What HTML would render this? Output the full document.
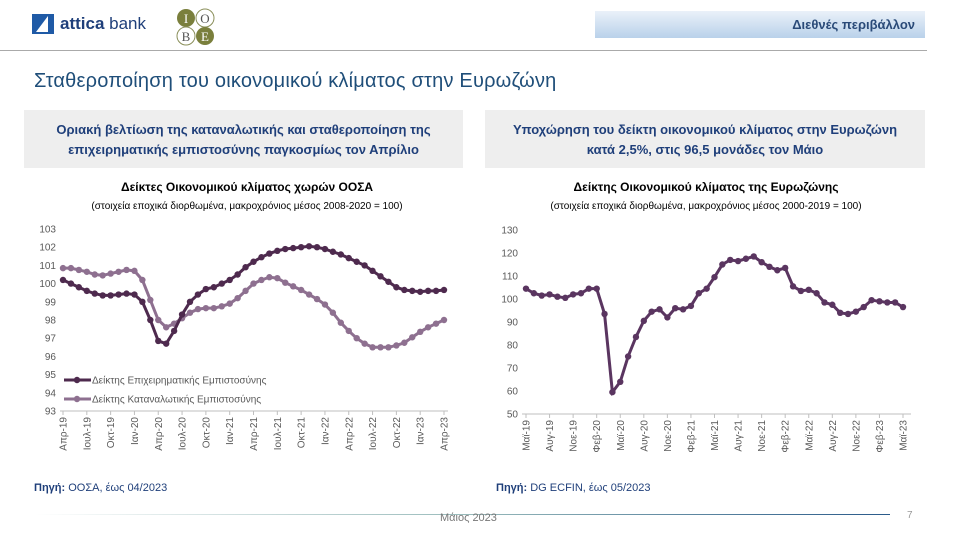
<!DOCTYPE html>
<html><head><meta charset="utf-8"><style>
body{margin:0;width:960px;height:540px;background:#fff;font-family:"Liberation Sans",sans-serif;position:relative;overflow:hidden}
.abs{position:absolute}
</style></head><body>
<div class="abs" style="left:32px;top:12px;height:24px;display:flex;align-items:center">
<svg width="24" height="24"><rect x="0" y="2" width="22" height="20" fill="#1f5aa6"/><polygon points="4,20 16,4 16,20" fill="#fff"/></svg>
<span style="font-size:17px;color:#1f3f7a;margin-left:4px"><b>attica</b> bank</span></div>
<svg class="abs" style="left:175px;top:8px" width="42" height="38">
<circle cx="11" cy="10" r="9" fill="#7a7f3c"/><circle cx="30" cy="10" r="9" fill="#fff" stroke="#8a8f5a"/><circle cx="11" cy="28" r="9" fill="#fff" stroke="#8a8f5a"/><circle cx="30" cy="28" r="9" fill="#7a7f3c"/>
<text x="11" y="15" font-size="13" text-anchor="middle" fill="#fff" font-family="Liberation Serif">I</text><text x="30" y="15" font-size="13" text-anchor="middle" fill="#555" font-family="Liberation Serif">O</text><text x="11" y="33" font-size="13" text-anchor="middle" fill="#555" font-family="Liberation Serif">B</text><text x="30" y="33" font-size="13" text-anchor="middle" fill="#fff" font-family="Liberation Serif">E</text></svg>
<div class="abs" style="left:595px;top:11px;width:330px;height:27px;background:linear-gradient(#eaf1f9,#b9d1ea);text-align:right;font-size:13px;font-weight:bold;color:#2a4a78;line-height:27px;box-sizing:border-box;padding-right:10px">Διεθνές περιβάλλον</div>
<div class="abs" style="left:0;top:50px;width:927px;height:1px;background:#aaa"></div>
<div class="abs" style="left:34px;top:70px;font-size:20px;color:#1f4e79;letter-spacing:0.2px">Σταθεροποίηση του οικονομικού κλίματος στην Ευρωζώνη</div>
<div class="abs" style="left:24px;top:110px;width:439px;height:58px;background:#eeeeee;color:#1f3f7a;font-weight:bold;font-size:13px;text-align:center;line-height:20px;padding-top:10px;box-sizing:border-box">Οριακή βελτίωση της καταναλωτικής και σταθεροποίηση της<br>επιχειρηματικής εμπιστοσύνης παγκοσμίως τον Απρίλιο</div>
<div class="abs" style="left:485px;top:110px;width:440px;height:58px;background:#eeeeee;color:#1f3f7a;font-weight:bold;font-size:13px;text-align:center;line-height:20px;padding-top:10px;box-sizing:border-box">Υποχώρηση του δείκτη οικονομικού κλίματος στην Ευρωζώνη<br>κατά 2,5%, στις 96,5 μονάδες τον Μάιο</div>
<svg id="ch" class="abs" style="left:0;top:0" width="960" height="540" font-family="Liberation Sans, sans-serif"></svg>
<div class="abs" style="left:34px;top:482px;font-size:11px;color:#1f3f7a"><b>Πηγή:</b> ΟΟΣΑ, έως 04/2023</div>
<div class="abs" style="left:496px;top:482px;font-size:11px;color:#1f3f7a"><b>Πηγή:</b> DG ECFIN, έως 05/2023</div>
<div class="abs" style="left:35px;top:514px;width:855px;height:1px;background:linear-gradient(90deg,#fff,#9bb,#2a5a8a)"></div>
<div class="abs" style="left:440px;top:512px;font-size:11px;color:#777">Μάιος 2023</div>
<div class="abs" style="left:907px;top:510px;font-size:10px;color:#999">7</div>
<script>
const leftTicks=[93,94,95,96,97,98,99,100,101,102,103];
const leftXLabels=["Απρ-19","Ιουλ-19","Οκτ-19","Ιαν-20","Απρ-20","Ιουλ-20","Οκτ-20","Ιαν-21","Απρ-21","Ιουλ-21","Οκτ-21","Ιαν-22","Απρ-22","Ιουλ-22","Οκτ-22","Ιαν-23","Απρ-23"];
const businessConf=[100.2,100,99.8,99.6,99.45,99.35,99.35,99.4,99.45,99.4,99.0,98.0,96.85,96.7,97.4,98.3,99.0,99.4,99.7,99.8,100.0,100.2,100.5,100.9,101.2,101.45,101.65,101.8,101.9,101.95,102.0,102.05,102.0,101.9,101.75,101.6,101.4,101.2,101.0,100.7,100.4,100.1,99.8,99.65,99.6,99.55,99.6,99.6,99.65];
const consumerConf=[100.85,100.85,100.75,100.65,100.5,100.45,100.55,100.65,100.75,100.7,100.2,99.1,98.0,97.6,97.8,98.1,98.4,98.6,98.65,98.65,98.75,98.9,99.2,99.6,100.0,100.2,100.35,100.3,100.05,99.85,99.65,99.4,99.15,98.85,98.4,97.85,97.4,97.0,96.7,96.5,96.5,96.5,96.6,96.75,97.05,97.35,97.6,97.8,98.0];
const rightTicks=[50,60,70,80,90,100,110,120,130];
const rightXLabels=["Μαϊ-19","Αυγ-19","Νοε-19","Φεβ-20","Μαϊ-20","Αυγ-20","Νοε-20","Φεβ-21","Μαϊ-21","Αυγ-21","Νοε-21","Φεβ-22","Μαϊ-22","Αυγ-22","Νοε-22","Φεβ-23","Μαϊ-23"];
const esi=[104.5,102.5,101.5,102,101,100.5,102,102.5,104.5,104.5,93.5,59.5,64,75,83.5,90.5,94.5,95.5,92,96,95.5,97,102.5,104.5,109.5,115,117,116.5,117.5,118.5,116,114,112.5,113.5,105.5,103.5,104,102.5,98.5,97.5,94,93.5,94.5,96.5,99.5,99,98.5,98.5,96.5];
const svg=document.getElementById('ch');const NS='http://www.w3.org/2000/svg';
function mk(t,a,p){const e=document.createElementNS(NS,t);for(const k in a)e.setAttribute(k,a[k]);(p||svg).appendChild(e);return e;}
function chart(o){
 const g=mk('g',{});
 
 
 const n=o.series[0].v.length;
 const X=i=>o.x0+(o.x1-o.x0)*i/(n-1);
 const Y=v=>o.yb-(v-o.min)/(o.max-o.min)*(o.yb-o.yt);
 const t=mk('text',{x:o.cx,y:191,'font-size':12,'font-weight':'bold','text-anchor':'middle',fill:'#000'},g);t.textContent=o.title;
 
 const s=mk('text',{x:o.cx,y:209,'font-size':10,'text-anchor':'middle',fill:'#000'},g);s.textContent=o.sub;
 
 o.ticks.forEach(v=>{const e=mk('text',{x:o.ax-4,y:Y(v)+3.5,'font-size':10,'text-anchor':'end',fill:'#595959'},g);e.textContent=v;
  });
 const ax=mk('line',{x1:o.ax,x2:o.axR,y1:o.yb,y2:o.yb,stroke:'#bfbfbf'},g);
 
 o.xl.forEach((l,k)=>{const i=k*3;const x=X(i);
  mk('line',{x1:x,x2:x,y1:o.yb,y2:o.yb+4,stroke:'#bfbfbf'},g);
  const e=mk('text',{x:0,y:0,'font-size':10,'text-anchor':'end',fill:'#595959',transform:`translate(${x+3.5},${o.yb+6}) rotate(-90)`},g);e.textContent=l;
  });
 o.series.forEach(se=>{
  const p=mk('polyline',{points:se.v.map((v,i)=>X(i)+','+Y(v)).join(' '),fill:'none',stroke:se.c,'stroke-width':3},g);
  
  se.v.forEach((v,i)=>{const c=mk('circle',{cx:X(i),cy:Y(v),r:3.2,fill:se.c},g);
   });
 });
 (o.legend||[]).forEach((L,k)=>{const y=o.legY+k*19;
  const lg=mk('g',{},g);
  mk('line',{x1:64,x2:91,y1:y,y2:y,stroke:L.c,'stroke-width':3},lg);mk('circle',{cx:77,cy:y,r:3.2,fill:L.c},lg);
  const e=mk('text',{x:92,y:y+3.5,'font-size':10,fill:'#595959'},lg);e.textContent=L.t;});
}
chart({name:'oecd-confidence-chart',cx:247,title:'Δείκτες Οικονομικού κλίματος χωρών ΟΟΣΑ',sub:'(στοιχεία εποχικά διορθωμένα, μακροχρόνιος μέσος 2008-2020 = 100)',
 x0:63,x1:444,ax:60,axR:448,yt:229,yb:411,min:93,max:103,ticks:leftTicks,xl:leftXLabels,
 series:[{name:'consumer-confidence',v:consumerConf,c:'#8e7090'},{name:'business-confidence',v:businessConf,c:'#4e2a4e'}],
 legY:380,legend:[{t:'Δείκτης Επιχειρηματικής Εμπιστοσύνης',c:'#4e2a4e'},{t:'Δείκτης Καταναλωτικής Εμπιστοσύνης',c:'#8e7090'}]});
chart({name:'eurozone-esi-chart',cx:706,title:'Δείκτης Οικονομικού κλίματος της Ευρωζώνης',sub:'(στοιχεία εποχικά διορθωμένα, μακροχρόνιος μέσος 2000-2019 = 100)',
 x0:526,x1:903,ax:522,axR:911,yt:230,yb:414,min:50,max:130,ticks:rightTicks,xl:rightXLabels,
 series:[{name:'esi',v:esi,c:'#5a3560'}]});
</script>
</body></html>
